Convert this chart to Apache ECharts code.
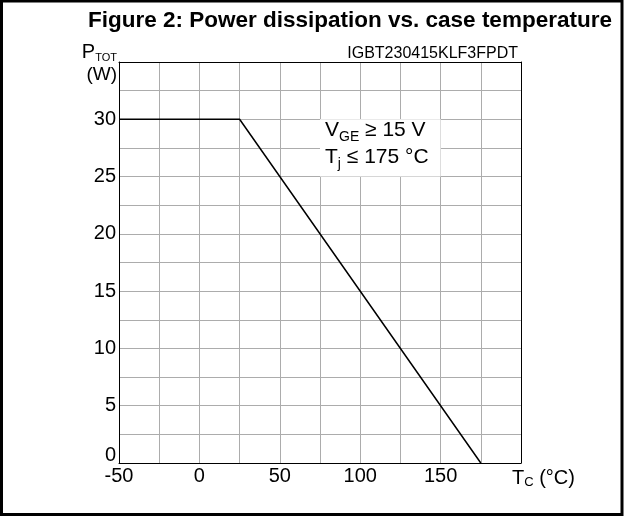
<!DOCTYPE html>
<html>
<head>
<meta charset="utf-8">
<script src="https://cdn.jsdelivr.net/npm/echarts@6/dist/echarts.min.js"></script>
<style>
html,body{margin:0;padding:0;background:#fff;}
#c{width:624px;height:516px;}
</style>
</head>
<body>
<div id="c"></div>
<script>
// Data
const caseTemp = [-50, 25, 175];      // T_C (°C)
const powerTot = [30, 30, 0];         // P_TOT (W)
const xTickLabels = [-50, 0, 50, 100, 150];
const yTickLabels = [0, 5, 10, 15, 20, 25, 30];
const noteBox = { x: [75, 150], y: [25, 30] };

const FONT = 'Liberation Sans, Arial, Helvetica, sans-serif';
const chart = echarts.init(document.getElementById('c'), null, {renderer: 'canvas'});

const frameAxis = {
  type: 'value', axisLabel: {show: false}, axisTick: {show: false}, splitLine: {show: false},
  axisLine: {show: true, onZero: false, lineStyle: {color: '#000', width: 1}}
};

const option = {
  animation: false,
  backgroundColor: '#fff',
  title: [
    {
      text: 'Figure 2: Power dissipation vs. case temperature',
      left: 83, top: 4,
      textStyle: {fontFamily: FONT, fontSize: 22.5, fontWeight: 'bold', color: '#000'}
    },
    {
      text: 'IGBT230415KLF3FPDT',
      right: 101, top: 41,
      textStyle: {fontFamily: FONT, fontSize: 16, fontWeight: 'normal', color: '#000'}
    }
  ],
  graphic: [{
    type: 'rect', silent: true, z: 100,
    shape: {x: 1.5, y: 1, width: 620.5, height: 513.5},
    style: {fill: 'none', stroke: '#000', lineWidth: 3}
  }],
  grid: {left: 119, right: 103, top: 62, bottom: 53, show: false, containLabel: false},
  xAxis: [{
    type: 'value', min: -50, max: 200, interval: 25,
    axisLine: {show: true, onZero: false, lineStyle: {color: '#000', width: 1}},
    axisTick: {show: false},
    splitLine: {show: true, lineStyle: {color: '#acacac', width: 1}},
    axisLabel: {
      fontFamily: FONT, fontSize: 20, color: '#000', margin: 3,
      formatter: v => xTickLabels.includes(v) ? String(v) : ''
    },
    name: 'T{s|C} (°C)',
    nameLocation: 'end', nameGap: -9,
    nameTextStyle: {
      fontFamily: FONT, fontSize: 20, color: '#000', verticalAlign: 'top', align: 'left',
      padding: [4, 0, 0, 0], lineHeight: 22,
      rich: {s: {fontFamily: FONT, fontSize: 13, color: '#000', verticalAlign: 'bottom', lineHeight: 18}}
    }
  }, Object.assign({position: 'top', min: -50, max: 200}, frameAxis)],
  yAxis: [{
    type: 'value', min: 0, max: 35, interval: 2.5,
    axisLine: {show: true, onZero: false, lineStyle: {color: '#000', width: 1}},
    axisTick: {show: false},
    splitLine: {show: true, lineStyle: {color: '#acacac', width: 1}},
    axisLabel: {
      fontFamily: FONT, fontSize: 20, color: '#000', margin: 3,
      formatter: v => yTickLabels.includes(v) ? (v === 0 ? '{z|0}' : String(v)) : '',
      rich: {z: {fontFamily: FONT, fontSize: 20, color: '#000', padding: [0, 0, 16, 0]}}
    },
    name: 'P{s|TOT}\n{w|(W)}',
    nameLocation: 'end', nameGap: -2,
    nameTextStyle: {
      fontFamily: FONT, fontSize: 20, color: '#000', align: 'right', verticalAlign: 'middle',
      padding: [0, 2, 0, 0], lineHeight: 22,
      rich: {
        s: {fontFamily: FONT, fontSize: 11, color: '#000', verticalAlign: 'bottom', lineHeight: 14},
        w: {fontFamily: FONT, fontSize: 19, color: '#000', lineHeight: 24}
      }
    }
  }, Object.assign({position: 'right', min: 0, max: 35}, frameAxis)],
  series: [{
    type: 'line',
    data: caseTemp.map((t, i) => [t, powerTot[i]]),
    showSymbol: false, symbol: 'none',
    lineStyle: {color: '#000', width: 1.5},
    z: 3,
    markArea: {
      silent: true,
      itemStyle: {color: '#fff', borderWidth: 0},
      label: {
        show: true, position: 'insideLeft', offset: [0, -4],
        fontFamily: FONT, fontSize: 21, color: '#000', lineHeight: 27,
        formatter: 'V{s|GE} ≥ 15 V\nT{j|j} ≤ 175 °C',
        rich: {
          s: {fontFamily: FONT, fontSize: 14, color: '#000', verticalAlign: 'bottom', lineHeight: 22},
          j: {fontFamily: FONT, fontSize: 14, color: '#000', verticalAlign: 'bottom', lineHeight: 22}
        }
      },
      data: [[{coord: [noteBox.x[0], noteBox.y[1]]}, {coord: [noteBox.x[1], noteBox.y[0]]}]]
    }
  }]
};
chart.setOption(option);
</script>
</body>
</html>
